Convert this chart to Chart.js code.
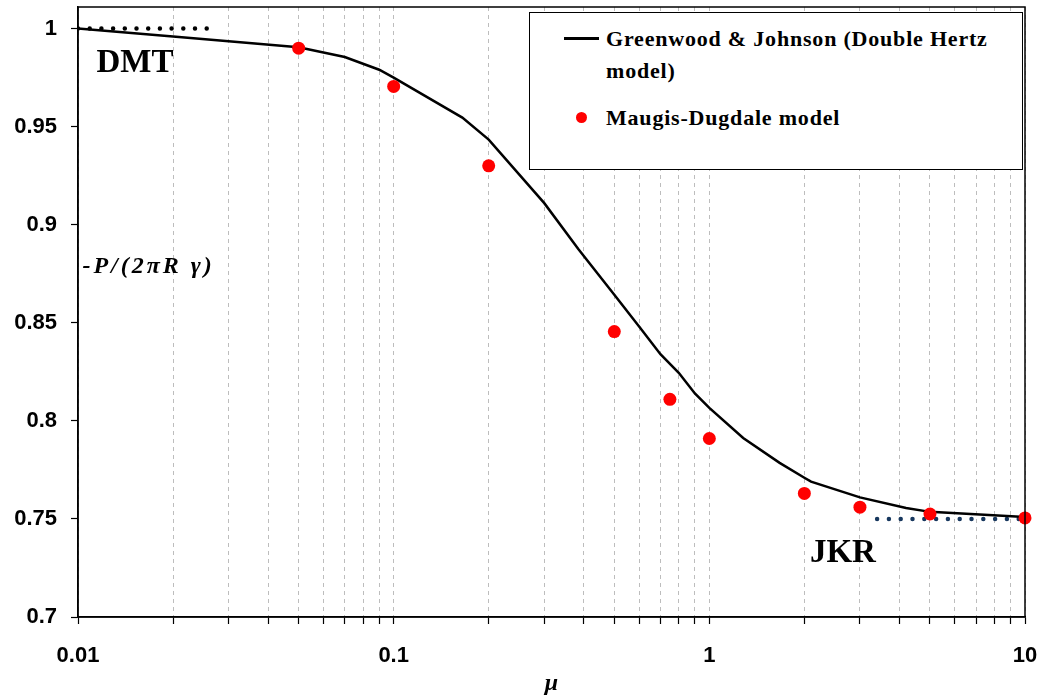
<!DOCTYPE html>
<html>
<head>
<meta charset="utf-8">
<script src="https://cdn.jsdelivr.net/npm/chart.js@4/dist/chart.umd.min.js"></script>
<style>
  html, body { margin: 0; padding: 0; background: #fff; }
  #wrap { position: relative; width: 1043px; height: 698px; }
  #legendBox {
    position: absolute; left: 529px; top: 12px; width: 492px; height: 156px;
    border: 1.5px solid #000; background: #fff;
    font-family: "Liberation Serif", "Times New Roman", serif;
    font-weight: bold; font-size: 22px; letter-spacing: 0.8px; color: #000;
  }
  #legendBox .lineKey { position: absolute; left: 34px; top: 24px; width: 35px; height: 2.5px; background: #000; }
  #legendBox .dotKey { position: absolute; left: 46px; top: 99px; width: 11px; height: 11px; border-radius: 50%; background: #ff0000; }
  #legendBox .txt { position: absolute; left: 76px; line-height: 32px; white-space: nowrap; }
</style>
</head>
<body>
<div id="wrap">
  <canvas id="adhesionChart" width="1043" height="698"></canvas>
  <div id="legendBox">
    <div class="lineKey"></div>
    <div class="txt" style="top:10px">Greenwood &amp; Johnson (Double Hertz<br>model)</div>
    <div class="dotKey"></div>
    <div class="txt" style="top:89px">Maugis-Dugdale model</div>
  </div>
</div>
<script>
// Greenwood & Johnson (double Hertz) curve
const muGJ    = [0.01, 0.02, 0.03, 0.05, 0.07, 0.09, 0.1, 0.165, 0.2, 0.3, 0.385, 0.5, 0.6, 0.7, 0.8, 0.9, 1.0, 1.28, 1.67, 2, 2.1, 3, 4.2, 5, 10];
const forceGJ = [1.0, 0.996, 0.9935, 0.9905, 0.9855, 0.979, 0.975, 0.9546, 0.9434, 0.911, 0.8875, 0.8643, 0.848, 0.834, 0.8245, 0.814, 0.8066, 0.7913, 0.7786, 0.771, 0.769, 0.761, 0.7556, 0.7536, 0.751];

// Maugis-Dugdale points
const muMD    = [0.05, 0.1, 0.2, 0.5, 0.75, 1, 2, 3, 5, 10];
const forceMD = [0.99, 0.9705, 0.930, 0.8455, 0.811, 0.791, 0.763, 0.756, 0.7525, 0.7505];

// DMT and JKR limits (dotted)
const muDMT = [0.01, 0.0262];
const forceDMT = [1, 1];
const muJKR = [3.4, 10];
const forceJKR = [0.75, 0.75];

// axes
const yTicks = [0.7, 0.75, 0.8, 0.85, 0.9, 0.95, 1];
const yTickLabels = ['0.7', '0.75', '0.8', '0.85', '0.9', '0.95', '1'];
const xDecades = [0.01, 0.1, 1, 10];
const xTickLabels = ['0.01', '0.1', '1', '10'];

const toPoints = (xs, ys) => xs.map((x, i) => ({ x: x, y: ys[i] }));

// every 1..9 x 10^n between the decades
const xGridTicks = [];
xDecades.forEach((d, i) => {
    if (i === xDecades.length - 1) { xGridTicks.push(d); return; }
    for (let k = 1; k < 10; k++) xGridTicks.push(+(d * k).toPrecision(3));
});

const tickFont = { family: '"Liberation Sans", Arial, sans-serif', size: 22, weight: 'bold' };
const serif = '"Liberation Serif", "Times New Roman", serif';

const findIdx = (arr, v) => arr.findIndex(d => Math.abs(d - v) < Math.abs(d) * 1e-6);

// frame round the plot + text annotations
const annotations = {
    id: 'annotations',
    afterDatasetsDraw(chart) {
        const { ctx, chartArea: a, scales: { x, y } } = chart;
        ctx.save();
        ctx.strokeStyle = '#000';
        ctx.lineWidth = 1.5;
        ctx.strokeRect(a.left, a.top, a.right - a.left, a.bottom - a.top);

        ctx.fillStyle = '#000';
        ctx.textBaseline = 'alphabetic';
        ctx.textAlign = 'left';
        ctx.font = 'bold 33px ' + serif;
        ctx.fillText('DMT', x.getPixelForValue(0.01144), y.getPixelForValue(0.978));
        ctx.fillText('JKR', x.getPixelForValue(2.083), y.getPixelForValue(0.728));

        ctx.font = 'italic bold 24px ' + serif;
        ctx.letterSpacing = '3px';
        ctx.fillText('-P/(2\u03C0R \u03B3)', x.getPixelForValue(0.01033), y.getPixelForValue(0.8755));
        ctx.restore();
    }
};

new Chart(document.getElementById('adhesionChart'), {
    type: 'scatter',
    data: {
        datasets: [
            {
                label: 'Maugis-Dugdale model',
                data: toPoints(muMD, forceMD),
                backgroundColor: '#ff0000',
                borderWidth: 0,
                pointRadius: 6.5,
                clip: false,
                order: 0
            },
            {
                label: 'Greenwood & Johnson (Double Hertz model)',
                data: toPoints(muGJ, forceGJ),
                showLine: true,
                borderColor: '#000',
                borderWidth: 2.5,
                pointRadius: 0,
                tension: 0,
                order: 1
            },
            {
                label: 'DMT',
                data: toPoints(muDMT, forceDMT),
                showLine: true,
                borderColor: '#000',
                borderWidth: 4.5,
                borderDash: [0, 11.7],
                borderCapStyle: 'round',
                pointRadius: 0,
                order: 2
            },
            {
                label: 'JKR',
                data: toPoints(muJKR, forceJKR),
                showLine: true,
                borderColor: '#17375e',
                borderWidth: 4.5,
                borderDash: [0, 11.8],
                borderCapStyle: 'round',
                pointRadius: 0,
                clip: false,
                order: 2
            }
        ]
    },
    options: {
        responsive: false,
        animation: false,
        layout: { padding: { top: 7, right: 18, left: 0, bottom: 0 } },
        plugins: {
            legend: { display: false },
            tooltip: { enabled: false }
        },
        scales: {
            x: {
                type: 'logarithmic',
                min: 0.01,
                max: 10,
                afterBuildTicks: (s) => { s.ticks = xGridTicks.map(v => ({ value: v })); },
                afterFit: (s) => { s.height = 81; s.paddingLeft = 0; s.paddingRight = 0; },
                ticks: {
                    autoSkip: false,
                    maxRotation: 0,
                    padding: 19,
                    color: '#000',
                    font: tickFont,
                    callback: function (v) {
                        const i = findIdx(xDecades, v);
                        return i >= 0 ? xTickLabels[i] : '';
                    }
                },
                grid: {
                    color: '#bdbdbd',
                    lineWidth: 1,
                    tickColor: '#000',
                    tickLength: 7,
                    tickWidth: 1.2,
                    tickBorderDash: []
                },
                border: { display: true, color: '#000', width: 1.5, dash: [4, 4] },
                title: {
                    display: true,
                    text: '\u03BC',
                    color: '#000',
                    padding: { top: 0, bottom: 0 },
                    font: { family: serif, size: 24, style: 'italic', weight: 'bold' }
                }
            },
            y: {
                min: 0.7,
                max: 1.011,
                afterBuildTicks: (s) => { s.ticks = yTicks.map(v => ({ value: v })); },
                afterFit: (s) => { s.width = 78; s.paddingTop = 0; s.paddingBottom = 0; },
                ticks: {
                    padding: 14,
                    color: '#000',
                    font: tickFont,
                    callback: function (v) {
                        const i = findIdx(yTicks, v);
                        return i >= 0 ? yTickLabels[i] : '';
                    }
                },
                grid: {
                    drawOnChartArea: false,
                    color: '#000',
                    tickColor: '#000',
                    tickLength: 7,
                    tickWidth: 1.2
                },
                border: { display: true, color: '#000', width: 1.5 }
            }
        }
    },
    plugins: [annotations]
});
</script>
</body>
</html>
